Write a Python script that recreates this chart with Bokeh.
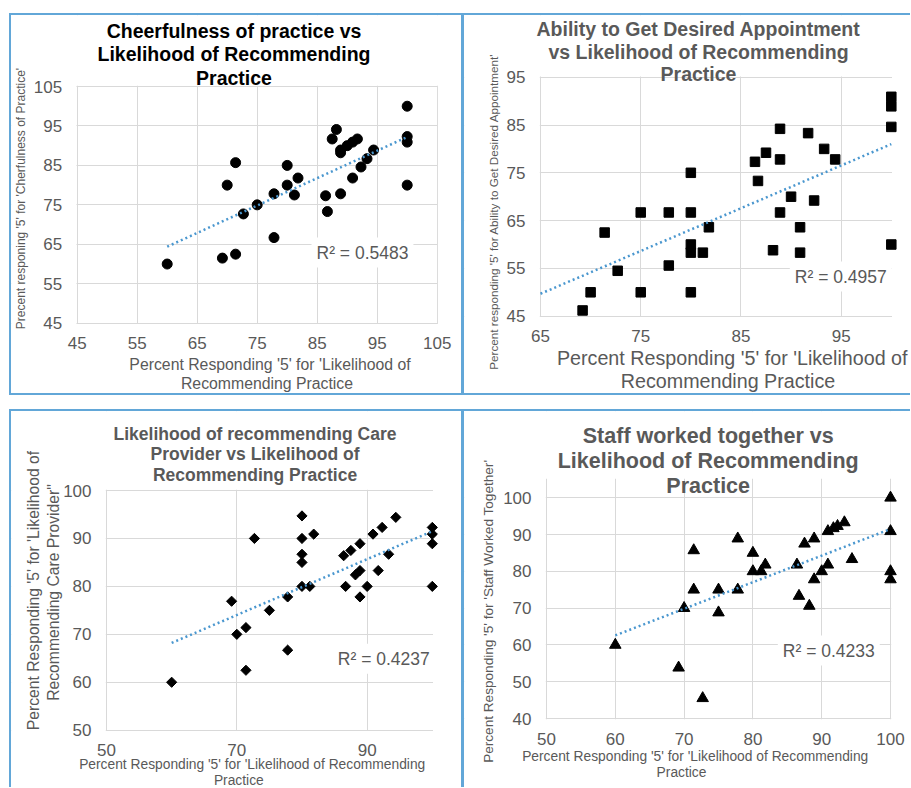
from math import pi
from bokeh.plotting import figure
from bokeh.models import Range1d, FixedTicker, Label, Spacer, BoxAnnotation
from bokeh.layouts import column, row
from bokeh.embed import file_html
from bokeh.resources import INLINE

# ---------------- data ----------------
cheer_x = [60, 69.2, 71.4, 70, 71.4, 72.7, 75, 77.8, 77.8, 80, 80, 81.8, 81.2, 86.4, 86.7,
           87.5, 88.2, 88.9, 88.9, 88.9, 90, 90.9, 91.7, 90.9, 92.3, 93.3, 94.4, 100, 100, 100, 100]
cheer_y = [60, 61.5, 62.5, 80, 85.7, 72.7, 75, 77.8, 66.7, 85, 80, 81.8, 77.5, 77.3, 73.3,
           91.7, 94.1, 88.9, 88.2, 77.8, 90, 90.9, 91.7, 81.8, 84.6, 86.7, 88.9, 100, 92.3, 90.9, 80]
cheer_trend_x = [60, 100]
cheer_trend_y = [64.4, 92.2]
cheer_r2 = "R² = 0.5483"

appt_x = [69.2, 70, 71.4, 72.7, 75, 75, 77.8, 77.8, 80, 80, 80, 80, 80, 81.2, 81.8, 86.4, 86.7,
          87.5, 88.2, 88.9, 88.9, 88.9, 90, 90.9, 90.9, 91.7, 92.3, 93.3, 94.4, 100, 100, 100, 100]
appt_y = [46.2, 50, 62.5, 54.5, 50, 66.7, 66.7, 55.6, 75, 66.7, 60, 58.3, 50, 58.3, 63.6, 77.3, 73.3,
          79.2, 58.8, 84.2, 77.8, 66.7, 70, 63.6, 58.3, 83.3, 69.2, 80, 77.8, 84.6, 90.9, 88.9, 60]
appt_trend_x = [65, 100]
appt_trend_y = [49.7, 81.0]
appt_r2 = "R² = 0.4957"

prov_x = [60, 69.2, 70, 71.4, 71.4, 72.7, 75, 77.8, 77.8, 80, 80, 80, 80, 80, 81.2, 81.8, 86.4,
          86.7, 87.5, 88.2, 88.9, 88.9, 88.9, 90, 90.9, 91.7, 92.3, 93.3, 94.4, 100, 100, 100, 100]
prov_y = [60, 76.9, 70, 71.4, 62.5, 90, 75, 77.8, 66.7, 94.7, 90, 86.7, 85, 80, 80, 90.9, 86.4,
          80, 87.5, 82.4, 88.9, 83.3, 77.8, 80, 90.9, 83.3, 92.3, 86.7, 94.4, 92.3, 90.9, 88.9, 80]
prov_trend_x = [60, 100]
prov_trend_y = [68.2, 91.5]
prov_r2 = "R² = 0.4237"

staff_x = [60, 69.2, 72.7, 70, 71.4, 71.4, 75, 75, 77.8, 77.8, 80, 80, 81.2, 81.8, 86.4, 86.7,
           87.5, 88.2, 88.9, 88.9, 90, 90.9, 90.9, 91.7, 92.3, 93.3, 94.4, 100, 100, 100, 100]
staff_y = [60, 53.8, 45.5, 70, 85.7, 75, 75, 68.8, 88.9, 75, 85, 80, 80, 81.8, 81.8, 73.3,
           87.5, 70.6, 88.9, 77.8, 80, 90.9, 81.8, 91.7, 92.3, 93.3, 83.3, 100, 90.9, 80, 77.8]
staff_trend_x = [60, 100]
staff_trend_y = [62.6, 91.5]
staff_r2 = "R² = 0.4233"

# ---------------- style ----------------
FONT = "Liberation Sans"
GRAY = "#595959"
GRID = "#d9d9d9"
TREND = "#4a97cf"
BORDER = "#62a7d8"


def line_spacer(w, h):
    return Spacer(width=w, height=h, styles={"background-color": BORDER})


def blank(w, h):
    return Spacer(width=w, height=h)


class Panel:
    """canvas = (page_x, page_y, W, H); area = page pixels of the plot area
    (left, top, right, bottom) corresponding to data (xmin, ymax, xmax, ymin)."""

    def __init__(self, canvas, area, xlim, ylim, xticks, yticks):
        cx, cy, W, H = canvas
        al, at, ar, ab = area
        x0, x1 = xlim
        y0, y1 = ylim
        sx = (x1 - x0) / (ar - al)
        sy = (y1 - y0) / (ab - at)
        xr = Range1d(x0 - (al - cx) * sx, x1 + (cx + W - ar) * sx)
        yr = Range1d(y0 - (cy + H - ab) * sy, y1 + (at - cy) * sy)
        self.cx, self.cy, self.H = cx, cy, H
        p = figure(width=W, height=H, x_range=xr, y_range=yr,
                   output_backend="svg", toolbar_location=None, title=None,
                   min_border=0, min_border_left=0, min_border_right=0,
                   min_border_top=0, min_border_bottom=0)
        p.outline_line_color = None
        p.background_fill_color = "white"
        p.border_fill_color = "white"
        p.xaxis.ticker = FixedTicker(ticks=xticks)
        p.yaxis.ticker = FixedTicker(ticks=yticks)
        p.xaxis.fixed_location = y0
        p.yaxis.fixed_location = x0
        for ax in (p.xaxis, p.yaxis):
            ax.axis_line_color = None
            ax.major_tick_line_color = None
            ax.minor_tick_line_color = None
            ax.major_tick_out = 0
            ax.major_tick_in = 0
            ax.major_label_text_font = FONT
            ax.major_label_text_font_size = "17px"
            ax.major_label_text_color = GRAY
        p.xaxis.major_label_standoff = 14
        p.yaxis.major_label_standoff = 15
        p.grid.grid_line_color = GRID
        p.grid.grid_line_width = 1
        # white masks so that grid lines stay inside the plot area
        ex, ey = 0.7 * sx, 0.7 * sy
        for kw in (dict(right=x0 - ex), dict(left=x1 + ex),
                   dict(bottom=y1 + ey), dict(top=y0 - ey)):
            p.add_layout(BoxAnnotation(fill_color="white", fill_alpha=1.0,
                                       line_color=None, level="underlay", **kw))
        self.p = p

    def txt(self, px, py, text, size, color=GRAY, bold=False, align="center",
            angle=0.0, bg=None):
        lab = Label(x=px - self.cx, y=self.cy + self.H - py, x_units="screen",
                    y_units="screen", text=text, angle=angle, text_font=FONT,
                    text_font_size=size, text_color=color,
                    text_font_style="bold" if bold else "normal",
                    text_align=align, text_baseline="middle")
        if bg is not None:
            lab.background_fill_color = bg
            lab.padding = 5
        self.p.add_layout(lab)

    def trend(self, xs, ys):
        self.p.line(xs, ys, line_color=TREND, line_width=2.5, line_dash="2 3")


# ---------------- panel 1 ----------------
P1 = Panel((11, 15, 450, 378), (76.7, 86, 436.7, 322.7), (45, 105), (45, 105),
           list(range(45, 106, 10)), list(range(45, 106, 10)))
P1.p.scatter(cheer_x, cheer_y, marker="circle", size=10, color="black")
P1.trend(cheer_trend_x, cheer_trend_y)
for t, y in (("Cheerfulness of practice vs", 30.7), ("Likelihood of Recommending", 53.5), ("Practice", 77)):
    P1.txt(233.5, y, t, "19.5px", color="black", bold=True)
P1.txt(20, 198, "Precent responing '5' for 'Cherfulness of Practice'", "12px", angle=pi / 2)
P1.txt(269.5, 363.5, "Percent Responding '5' for 'Likelihood of", "15.8px")
P1.txt(266.5, 383, "Recommending Practice", "15.8px")
P1.txt(311, 252, cheer_r2, "17.5px", align="left", bg="white")

# ---------------- panel 2 ----------------
P2 = Panel((464, 15, 446, 378), (540, 76.7, 890.8, 315.7), (65, 100), (45, 95),
           [65, 75, 85, 95], list(range(45, 96, 10)))
P2.p.scatter(appt_x, appt_y, marker="square", size=9.5, color="black")
P2.trend(appt_trend_x, appt_trend_y)
for t, y in (("Ability to Get Desired Appointment", 28.3), ("vs Likelihood of Recommending", 51.7), ("Practice", 73.3)):
    P2.txt(698, y, t, "19.5px", bold=True)
P2.txt(493.3, 211, "Percent responding '5' for Ability to Get Desired Appointment'", "11.7px", angle=pi / 2)
P2.txt(731.7, 357.3, "Percent Responding '5' for 'Likelihood of", "19.7px")
P2.txt(727.5, 380.7, "Recommending Practice", "19.7px")
P2.txt(789.3, 276, appt_r2, "17.5px", align="left", bg="white")

# ---------------- panel 3 ----------------
P3 = Panel((11, 411, 450, 376), (106, 490, 431.8, 729.7), (50, 100), (50, 100),
           [50, 70, 90], list(range(50, 101, 10)))
P3.p.scatter(prov_x, prov_y, marker="square", size=7.2, angle=pi / 4, color="black")
P3.trend(prov_trend_x, prov_trend_y)
for t, y in (("Likelihood of recommending Care", 433.3), ("Provider vs Likelihood of", 453.3), ("Recommending Practice", 474)):
    P3.txt(254.5, y, t, "17.5px", bold=True)
P3.txt(33.3, 590, "Percent Responding '5' for 'Likelihood of", "15.7px", angle=pi / 2)
P3.txt(53.3, 592, "Recommending Care Provider\"", "15.7px", angle=pi / 2)
P3.txt(251.7, 764, "Percent Responding '5' for 'Likelihood of Recommending", "13.8px")
P3.txt(238.3, 780, "Practice", "13.8px")
P3.txt(332.3, 658.3, prov_r2, "17.5px", align="left", bg="white")

# ---------------- panel 4 ----------------
P4 = Panel((464, 411, 446, 376), (546, 478.9, 890, 718), (50, 100), (40, 105),
           list(range(50, 101, 10)), list(range(40, 101, 10)))
P4.p.scatter(staff_x, staff_y, marker="triangle", size=11.5, color="black")
P4.trend(staff_trend_x, staff_trend_y)
for t, y in (("Staff worked together vs", 435.7), ("Likelihood of Recommending", 460.7), ("Practice", 485)):
    P4.txt(707.7, y, t, "21.5px", bold=True)
P4.txt(488.3, 610.8, "Percent Responding '5' for 'Staff Worked Together'", "13.6px", angle=pi / 2)
P4.txt(694.7, 755.7, "Percent Responding '5' for 'Likelihood of Recommending", "13.8px")
P4.txt(681, 772.3, "Practice", "13.8px")
P4.txt(777.3, 650, staff_r2, "17.5px", align="left", bg="white")

layout = column(
    blank(910, 13),
    row(blank(9, 2), line_spacer(901, 2)),
    row(blank(9, 378), line_spacer(2, 378), P1.p, line_spacer(3, 378), P2.p),
    row(blank(9, 2), line_spacer(901, 2)),
    blank(910, 14),
    row(blank(9, 2), line_spacer(901, 2)),
    row(blank(9, 376), line_spacer(2, 376), P3.p, line_spacer(3, 376), P4.p),
)

open("out.html", "w").write(file_html(layout, INLINE))
